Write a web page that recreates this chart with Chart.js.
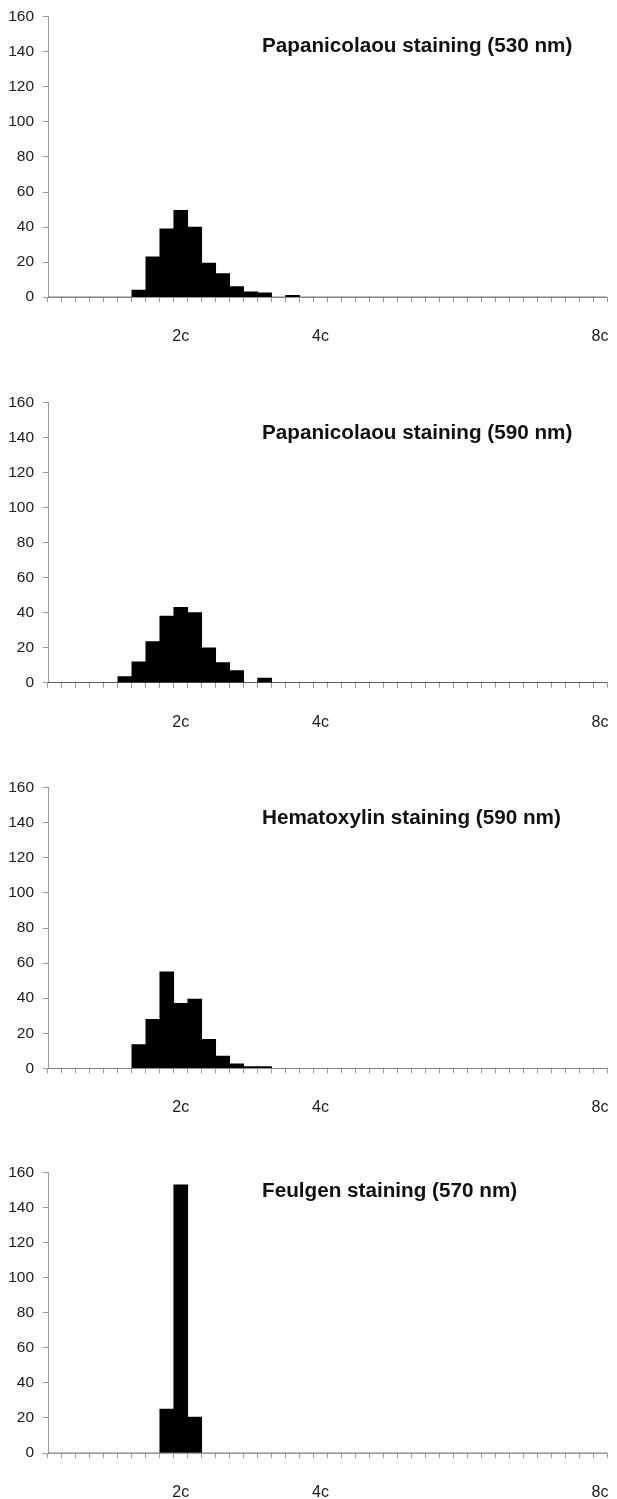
<!DOCTYPE html>
<html>
<head>
<meta charset="utf-8">
<script src="https://cdn.jsdelivr.net/npm/chart.js@4/dist/chart.umd.min.js"></script>
<style>
  html, body { margin:0; padding:0; background:#fff; }
  body { width:617px; height:1499px; position:relative; overflow:hidden; font-family:"Liberation Sans", Arial, sans-serif; }
  canvas { position:absolute; left:0; }
  .ttl { position:absolute; left:262px; font:bold 20.7px/20.7px "Liberation Sans", Arial, sans-serif; color:#111; white-space:nowrap; }
</style>
</head>
<body>
<script>
// ---- data ----
const binLabels = ['', '', '', '', '', '', '', '', '', '2c',
                   '', '', '', '', '', '', '', '', '', '4c',
                   '', '', '', '', '', '', '', '', '', '',
                   '', '', '', '', '', '', '', '', '', '8c'];
const yTicks = [0, 20, 40, 60, 80, 100, 120, 140, 160];
const titles = ['Papanicolaou staining (530 nm)', 'Papanicolaou staining (590 nm)',
                'Hematoxylin staining (590 nm)', 'Feulgen staining (570 nm)'];
const pap530 = [0, 0, 0, 0, 0, 0, 4, 23, 39, 49.5, 40, 19.5, 13.5, 6, 3, 2.5, 0, 1, 0, 0,
                0, 0, 0, 0, 0, 0, 0, 0, 0, 0, 0, 0, 0, 0, 0, 0, 0, 0, 0, 0];
const pap590 = [0, 0, 0, 0, 0, 3.5, 12, 23.5, 38, 43, 40, 20, 11.5, 7, 0, 2.7, 0, 0, 0, 0,
                0, 0, 0, 0, 0, 0, 0, 0, 0, 0, 0, 0, 0, 0, 0, 0, 0, 0, 0, 0];
const hema590 = [0, 0, 0, 0, 0, 0, 13.5, 28, 55, 37, 39.5, 16.5, 7, 2.5, 1, 1, 0, 0, 0, 0,
                 0, 0, 0, 0, 0, 0, 0, 0, 0, 0, 0, 0, 0, 0, 0, 0, 0, 0, 0, 0];
const feul570 = [0, 0, 0, 0, 0, 0, 0, 0, 25, 153, 20.5, 0, 0, 0, 0, 0, 0, 0, 0, 0,
                 0, 0, 0, 0, 0, 0, 0, 0, 0, 0, 0, 0, 0, 0, 0, 0, 0, 0, 0, 0];
const series = [pap530, pap590, hema590, feul570];

// ---- layout / style ----
const areaTops = [16.7, 402.3, 787.8, 1172.5];
const titleTops = [35.0, 421.8, 806.5, 1179.5];
const areaH = 280.5;
const xAxisH = 50;
const axisColor = '#9a9a9a';
const textColor = '#1a1a1a';
const FONT = '"Liberation Sans", Arial, sans-serif';

series.forEach((vals, i) => {
  const cTop = Math.round(areaTops[i]) - 16;
  const padTop = areaTops[i] - cTop;
  const cH = Math.ceil(padTop + areaH + xAxisH);
  const cv = document.createElement('canvas');
  cv.width = 617; cv.height = cH;
  cv.style.top = cTop + 'px';
  cv.style.width = '617px'; cv.style.height = cH + 'px';
  document.body.appendChild(cv);

  const t = document.createElement('div');
  t.className = 'ttl';
  t.style.top = titleTops[i] + 'px';
  t.textContent = titles[i];
  document.body.appendChild(t);

  new Chart(cv, {
    type: 'bar',
    data: {
      labels: binLabels,
      datasets: [{
        data: vals,
        backgroundColor: '#000',
        borderWidth: 0,
        barPercentage: 1,
        categoryPercentage: 1
      }]
    },
    options: {
      responsive: false,
      animation: false,
      devicePixelRatio: 1,
      layout: { padding: { top: padTop, right: 10, left: 0, bottom: 0 } },
      plugins: { legend: { display: false }, tooltip: { enabled: false } },
      scales: {
        x: {
          grid: { offset: true, drawOnChartArea: false, tickLength: 5, color: axisColor, tickColor: axisColor, lineWidth: 1 },
          border: { color: axisColor, width: 1 },
          ticks: { autoSkip: false, maxRotation: 0, minRotation: 0, padding: 25,
                   font: { family: FONT, size: 16 }, color: textColor },
          afterFit(s) { s.height = cH - padTop - areaH; s.paddingLeft = 0; s.paddingRight = 0; }
        },
        y: {
          min: 0, max: 160,
          afterBuildTicks(s) { s.ticks = yTicks.map(v => ({ value: v })); },
          grid: { drawOnChartArea: false, tickLength: 5, color: axisColor, tickColor: axisColor },
          border: { color: axisColor, width: 1 },
          ticks: { padding: 9, font: { family: FONT, size: 15.5 }, color: textColor },
          afterFit(s) { s.width = 48; s.paddingTop = 0; s.paddingBottom = 0; }
        }
      }
    }
  });
});
</script>
</body>
</html>
